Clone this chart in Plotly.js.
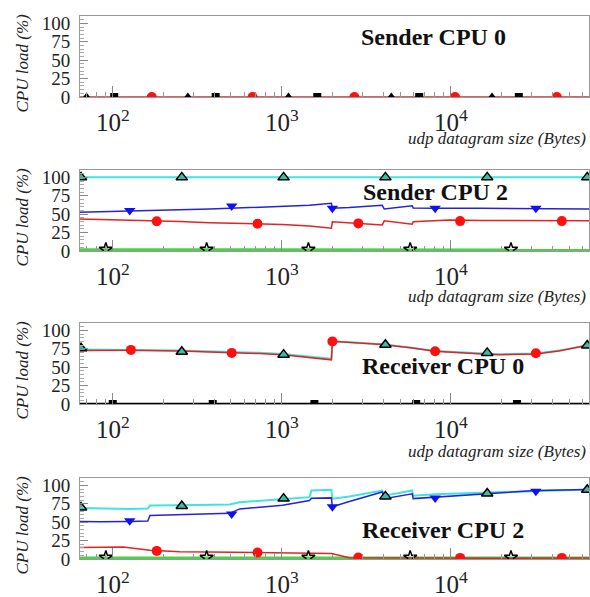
<!DOCTYPE html>
<html><head><meta charset="utf-8">
<script src="https://cdn.plot.ly/plotly-3.0.1.min.js"></script>
<style>html,body{margin:0;padding:0;background:#fff;}#chart{width:590px;height:597px;}</style>
</head><body><div id="chart"></div>
<script>
// ---------- Data (udp datagram size in bytes, CPU load in %) ----------
const panelTitles = ['Sender CPU 0', 'Sender CPU 2', 'Receiver CPU 0', 'Receiver CPU 2'];
const yTicks = [0, 25, 50, 75, 100];

// Panel 1: Sender CPU 0 (everything at 0)
const p1LineX = [64, 65536];
const p1LineY = [0, 0];
const p1CircleX = [170, 671, 2685, 10580, 42300];
const p1CircleY = [0, 0, 0, 0, 0];
const p1TriX = [70, 278, 1095, 4440, 17500];
const p1TriY = [0, 0, 0, 0, 0];
const p1SqX = [102, 406, 1620, 6490, 25200];
const p1SqY = [0, 0, 0, 0, 0];

// Panel 2: Sender CPU 2
const p2CyanX = [64, 65536];
const p2CyanY = [100, 100];
const p2BlueX = [64, 84, 126, 166, 249, 374, 563, 738, 1009, 1456, 1963, 1990, 2506, 3925, 4033, 5900, 5980, 8065, 15270, 31790, 65536];
const p2BlueY = [52.5, 53, 54.5, 55, 56, 57, 58.5, 59, 60, 62, 64.8, 58, 59, 62, 57, 61.5, 58.5, 58, 58, 57.5, 57];
const p2RedX = [64, 84, 126, 166, 249, 374, 563, 738, 1009, 1456, 1963, 1990, 2506, 3925, 4033, 5900, 5980, 8065, 9752, 15270, 31790, 65536];
const p2RedY = [43.5, 43, 42, 41, 40, 38.5, 37.5, 37, 36, 34, 31, 39.7, 38.5, 35.2, 41, 36.5, 39.7, 41, 42, 41.5, 41, 41];
const p2GreenX = [64, 1000, 65536];
const p2GreenY = [1.5, 1.5, 1];
const p2TriX = [64.9, 256, 1024, 4096, 16384, 64000];
const p2TriY = [100, 100, 100, 100, 100, 100];
const p2DownX = [126, 505, 1990, 8065, 31790];
const p2DownY = [55, 61, 58, 58, 58];
const p2CircleX = [182, 718, 2832, 11330, 45260];
const p2CircleY = [40.5, 37, 37.5, 40.6, 40.6];
const p2StarX = [91, 359, 1436, 5741, 22650];
const p2StarY = [2, 2, 2, 2, 2];

// Panel 3: Receiver CPU 0
const p3X = [64, 84, 126, 249, 374, 563, 738, 1009, 1110, 1456, 1963, 1990, 2506, 3925, 5900, 8065, 15270, 19240, 31790, 43460, 65536];
const p3Cyan = [74, 74, 73.5, 72.5, 71.5, 70.5, 69.5, 68, 67, 64.5, 61.5, 85, 84, 81, 76.5, 72, 68.5, 67.5, 68.5, 72.5, 80];
const p3Red = [72.5, 73, 73, 72, 71, 69.5, 68.5, 67, 66, 63, 60, 85.3, 84, 80.8, 76, 71.6, 68, 67, 68, 72, 80];
const p3BlackX = [64, 65536];
const p3BlackY = [0, 0];
const p3TriX = [64.9, 256, 1024, 4096, 16384, 64000];
const p3TriY = [75.7, 71, 67, 80.4, 69.4, 79.5];
const p3CircleX = [128, 505, 1990, 8065, 31790];
const p3CircleY = [73.5, 69.4, 85, 71.7, 69];
const p3SqX = [100, 390, 1558, 6229, 24570];
const p3SqY = [0, 0, 0, 0, 0];

// Panel 4: Receiver CPU 2
const p4X = [64, 84, 126, 161, 166, 249, 374, 491, 563, 738, 1009, 1456, 1496, 1963, 1990, 2506, 3925, 4033, 5900, 5980, 8065, 15270, 31790, 65536];
const p4Cyan = [69.4, 68.5, 68, 68.5, 72.6, 73, 73.5, 74, 77, 79, 81.8, 84, 93, 94, 82, 85, 93, 86, 93, 86, 88, 90, 93, 94.5];
const p4Blue = [51, 50.5, 51, 51.5, 59, 60, 61, 62, 68, 70, 73, 79.5, 82.6, 83, 71, 78, 91, 82, 88.6, 82, 84, 88.6, 93, 94.5];
const p4RedX = [64, 84, 115, 166, 249, 374, 563, 738, 1009, 1456, 1963, 2506, 3925, 8065, 15270, 31790, 65536];
const p4RedY = [15.5, 15.5, 16.4, 12, 10, 9.5, 9, 8.7, 8, 7.8, 7.3, 1.8, 2, 1.5, 1, 1.5, 1.5];
const p4GreenX = [64, 1000, 65536];
const p4GreenY = [1, 1, 1];
const p4TriX = [64.9, 256, 1024, 4096, 16384, 64000];
const p4TriY = [70, 72, 82, 85, 89, 94];
const p4DownX = [126, 505, 1990, 8065, 31790];
const p4DownY = [52, 61, 71, 83, 92];
const p4CircleX = [182, 718, 2832, 11330, 45260];
const p4CircleY = [11, 8.7, 2, 1.5, 1.5];
const p4StarX = [91, 359, 1436, 5741, 22650];
const p4StarY = [2, 2, 2, 2, 2];

// ---------- Styles ----------
const C = {cyan:'#3fe3e3', blue:'#2424d6', red:'#e42222', green:'#44d444', black:'#000000', teal:'#3cbca8'};
function line(x, y, color, width, ax){
  return {type:'scatter', mode:'lines', x, y, xaxis:'x'+ax, yaxis:'y'+ax,
          line:{color, width}, hoverinfo:'skip', showlegend:false};
}
function mk(x, y, symbol, color, size, ax, outline, olw){
  return {type:'scatter', mode:'markers', x, y, xaxis:'x'+ax, yaxis:'y'+ax,
          marker:{symbol, color, size, line:{color:outline||color, width:olw||0}},
          hoverinfo:'skip', showlegend:false};
}

const traces = [
  // panel 1
  line(p1LineX, p1LineY, C.red, 1.5, ''),
  mk(p1TriX, p1TriY, 'triangle-up', C.black, 9, ''),
  mk(p1SqX, p1SqY, 'square', C.black, 8, ''),
  mk(p1CircleX, p1CircleY, 'circle', '#ff1010', 10, ''),
  // panel 2
  line(p2GreenX, p2GreenY, C.green, 3.5, '2'),
  line(p2RedX, p2RedY, C.red, 1.5, '2'),
  line(p2BlueX, p2BlueY, C.blue, 1.5, '2'),
  line(p2CyanX, p2CyanY, C.cyan, 2, '2'),
  mk(p2TriX, p2TriY, 'triangle-up', C.teal, 10, '2', '#000', 1.5),
  mk(p2DownX, p2DownY, 'triangle-down', '#1010f0', 10, '2'),
  mk(p2CircleX, p2CircleY, 'circle', '#ff1010', 10, '2'),
  mk(p2StarX, p2StarY, 'star-open', C.black, 10, '2', C.black, 1.5),
  // panel 3
  line(p3BlackX, p3BlackY, C.black, 2.5, '3'),
  line(p3X, p3Cyan, C.cyan, 2, '3'),
  line(p3X, p3Red, C.red, 1.5, '3'),
  mk(p3TriX, p3TriY, 'triangle-up', C.teal, 10, '3', '#000', 1.5),
  mk(p3CircleX, p3CircleY, 'circle', '#ff1010', 10, '3'),
  mk(p3SqX, p3SqY, 'square', C.black, 8, '3'),
  // panel 4
  line(p4GreenX, p4GreenY, C.green, 3.5, '4'),
  line(p4RedX, p4RedY, C.red, 1.5, '4'),
  line(p4X, p4Cyan, C.cyan, 2, '4'),
  line(p4X, p4Blue, C.blue, 1.5, '4'),
  mk(p4TriX, p4TriY, 'triangle-up', C.teal, 10, '4', '#000', 1.5),
  mk(p4DownX, p4DownY, 'triangle-down', '#1010f0', 10, '4'),
  mk(p4CircleX, p4CircleY, 'circle', '#ff1010', 10, '4'),
  mk(p4StarX, p4StarY, 'star-open', C.black, 10, '4', C.black, 1.5)
];

// ---------- Layout ----------
const H = 597, W = 590, L = 80, R = 1;
const yp = p => 1 - p / H;
const xp = p => (p - L) / (W - L - R);
const panelPix = [[16, 97], [170, 251], [323, 404], [478, 559]];
const serif = 'Liberation Serif';

function xAxis(anchor){
  return {type:'log', range:[Math.log10(64), Math.log10(65536)], anchor, dtick:1,
    exponentformat:'power', ticks:'inside', ticklen:11, tickcolor:'#888', tickwidth:1,
    showline:true, mirror:true, linecolor:'#999', linewidth:1, showgrid:false, zeroline:false,
    tickfont:{family:serif, size:20, color:'#222'}, ticklabelstandoff:4,
    minor:{ticks:'inside', ticklen:5, tickcolor:'#999', dtick:'D1', showgrid:false}};
}
function yAxis(anchor, dom){
  return {range:[0, 110], anchor, domain:dom, tickvals:yTicks, ticks:'inside', ticklen:8,
    tickcolor:'#888', showline:true, mirror:true, linecolor:'#999', linewidth:1,
    showgrid:false, zeroline:false, ticklabelstandoff:5,
    tickfont:{family:serif, size:19, color:'#222'},
    minor:{ticks:'inside', ticklen:4, tickcolor:'#aaa', dtick:5, showgrid:false}};
}

const layout = {width:W, height:H, margin:{l:L, r:R, t:0, b:0},
  font:{family:serif},
  paper_bgcolor:'#fff', plot_bgcolor:'#fff', showlegend:false, annotations:[]};
const suffix = ['', '2', '3', '4'];
panelPix.forEach((pp, i) => {
  const s = suffix[i];
  layout['xaxis' + s] = xAxis('y' + s);
  layout['yaxis' + s] = yAxis('x' + s, [yp(pp[1]), yp(pp[0])]);
  layout.annotations.push({xref:'paper', yref:'paper', x:xp(22), y:yp((pp[0]+pp[1])/2 + 7),
    text:'CPU load (%)', textangle:-90, showarrow:false, xanchor:'center', yanchor:'middle',
    font:{family:serif, size:17, color:'#222', style:'italic'}});
});
const titlePix = [[433, 37], [435, 192], [443, 366], [443, 530]];
titlePix.forEach((tp, i) => {
  layout.annotations.push({xref:'paper', yref:'paper', x:xp(tp[0]), y:yp(tp[1]),
    text:'<b>' + panelTitles[i] + '</b>', showarrow:false, xanchor:'center', yanchor:'middle',
    font:{family:serif, size:24, color:'#111'}});
});
[139, 296, 451].forEach(py => {
  layout.annotations.push({xref:'paper', yref:'paper', x:xp(588), y:yp(py),
    text:'udp datagram size (Bytes)', showarrow:false, xanchor:'right', yanchor:'middle',
    font:{family:serif, size:17, color:'#222', style:'italic'}});
});

Plotly.newPlot('chart', traces, layout, {staticPlot:true, displayModeBar:false});
</script>
</body></html>
